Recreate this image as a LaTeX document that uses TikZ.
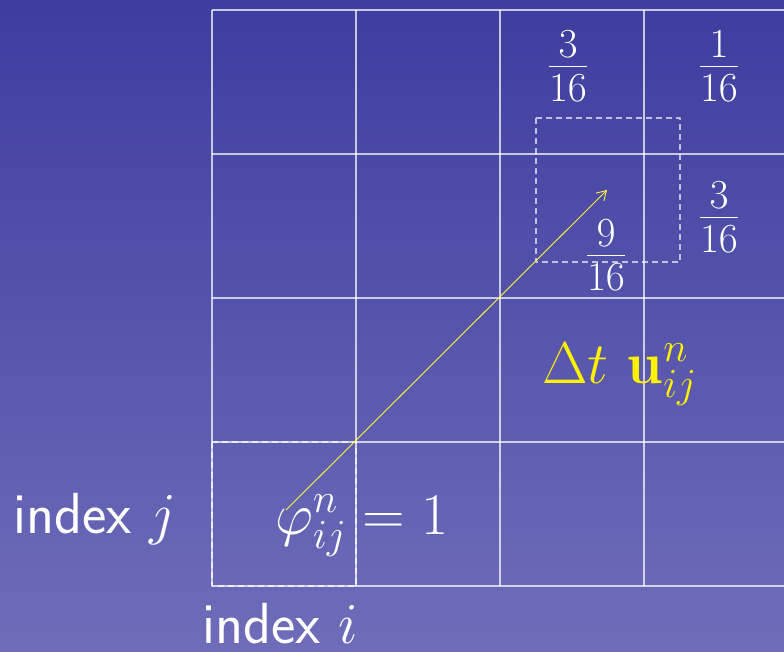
\RequirePackage{fix-cm}
\documentclass[tikz,border=0pt]{standalone}
\usepackage{xcolor}
\usepackage{tikz}
\usetikzlibrary{arrows.meta,positioning,calc}
\definecolor{slidetop}{RGB}{61,61,159}
\definecolor{slidebottom}{RGB}{111,109,185}
\definecolor{velyellow}{RGB}{255,242,0}
\tikzset{
  gridline/.style={draw=white, draw opacity=.70, line width=1.1pt},
  stencilbox/.style={draw=white, draw opacity=.65, line width=1.1pt,
    dash pattern=on 6pt off 4pt},
  weightlabel/.style={text=white, inner sep=0pt,
    font=\fontsize{59}{66}\selectfont},
  indexlabel/.style={text=white, inner sep=0pt,
    font=\fontsize{58}{64}\selectfont\sffamily}
}

\begin{document}
\begin{tikzpicture}[x=1pt, y=-1pt, line join=round]
  % Slide background, fixes the page to the reference size.
  \shade[top color=slidetop, bottom color=slidebottom]
    (0,0) rectangle (784,651);
  \useasboundingbox (0,0) rectangle (784,651);

  % Cell grid: 144pt pitch, running off the right edge.
  \def\cellsize{144}%
  \foreach \column in {0,1,2,3} {
    \pgfmathsetmacro{\xpos}{212+\column*\cellsize}
    \draw[gridline] (\xpos,10) -- (\xpos,586);
  }
  \foreach \row in {0,1,2,3,4} {
    \pgfmathsetmacro{\ypos}{10+\row*\cellsize}
    \draw[gridline] (212,\ypos) -- (784,\ypos);
  }

  % Source cell and the shifted cell after advection.
  \draw[stencilbox] (212,442) rectangle (356,586);
  \draw[stencilbox] (536,118) rectangle (680,262);

  % Weights of the four cells the shifted cell overlaps.
  \node[weightlabel] (wnw) at (568,66)  {$\frac{3}{16}$};
  \node[weightlabel] (wne) at (719,66)  {$\frac{1}{16}$};
  \node[weightlabel] (wse) at (719,217) {$\frac{3}{16}$};
  \node[weightlabel] (wsw) at (606,255) {$\frac{9}{16}$};

  % Cell value and velocity step.
  \node[weightlabel, anchor=base west] (phival) at (275,534)
    {$\varphi^n_{ij} = 1$};
  \node[weightlabel, anchor=base west, text=velyellow] (velstep)
    at (542,383) {$\Delta t\ \mathbf{u}^n_{ij}$};

  % Axis labels.
  \node[indexlabel, anchor=base west] (indexj) at (13,533) {index $j$};
  \node[indexlabel, anchor=base west] (indexi) at (202,643) {index $i$};

  % Displacement of the cell centre.
  \coordinate (cellcentre) at (286,510);
  \coordinate (shiftedcentre) at (607,190);
  \draw[draw=velyellow!80!white, line width=0.9pt,
    -{Straight Barb[length=9pt,width=11pt]}]
    (cellcentre) -- (shiftedcentre);
\end{tikzpicture}
\end{document}
